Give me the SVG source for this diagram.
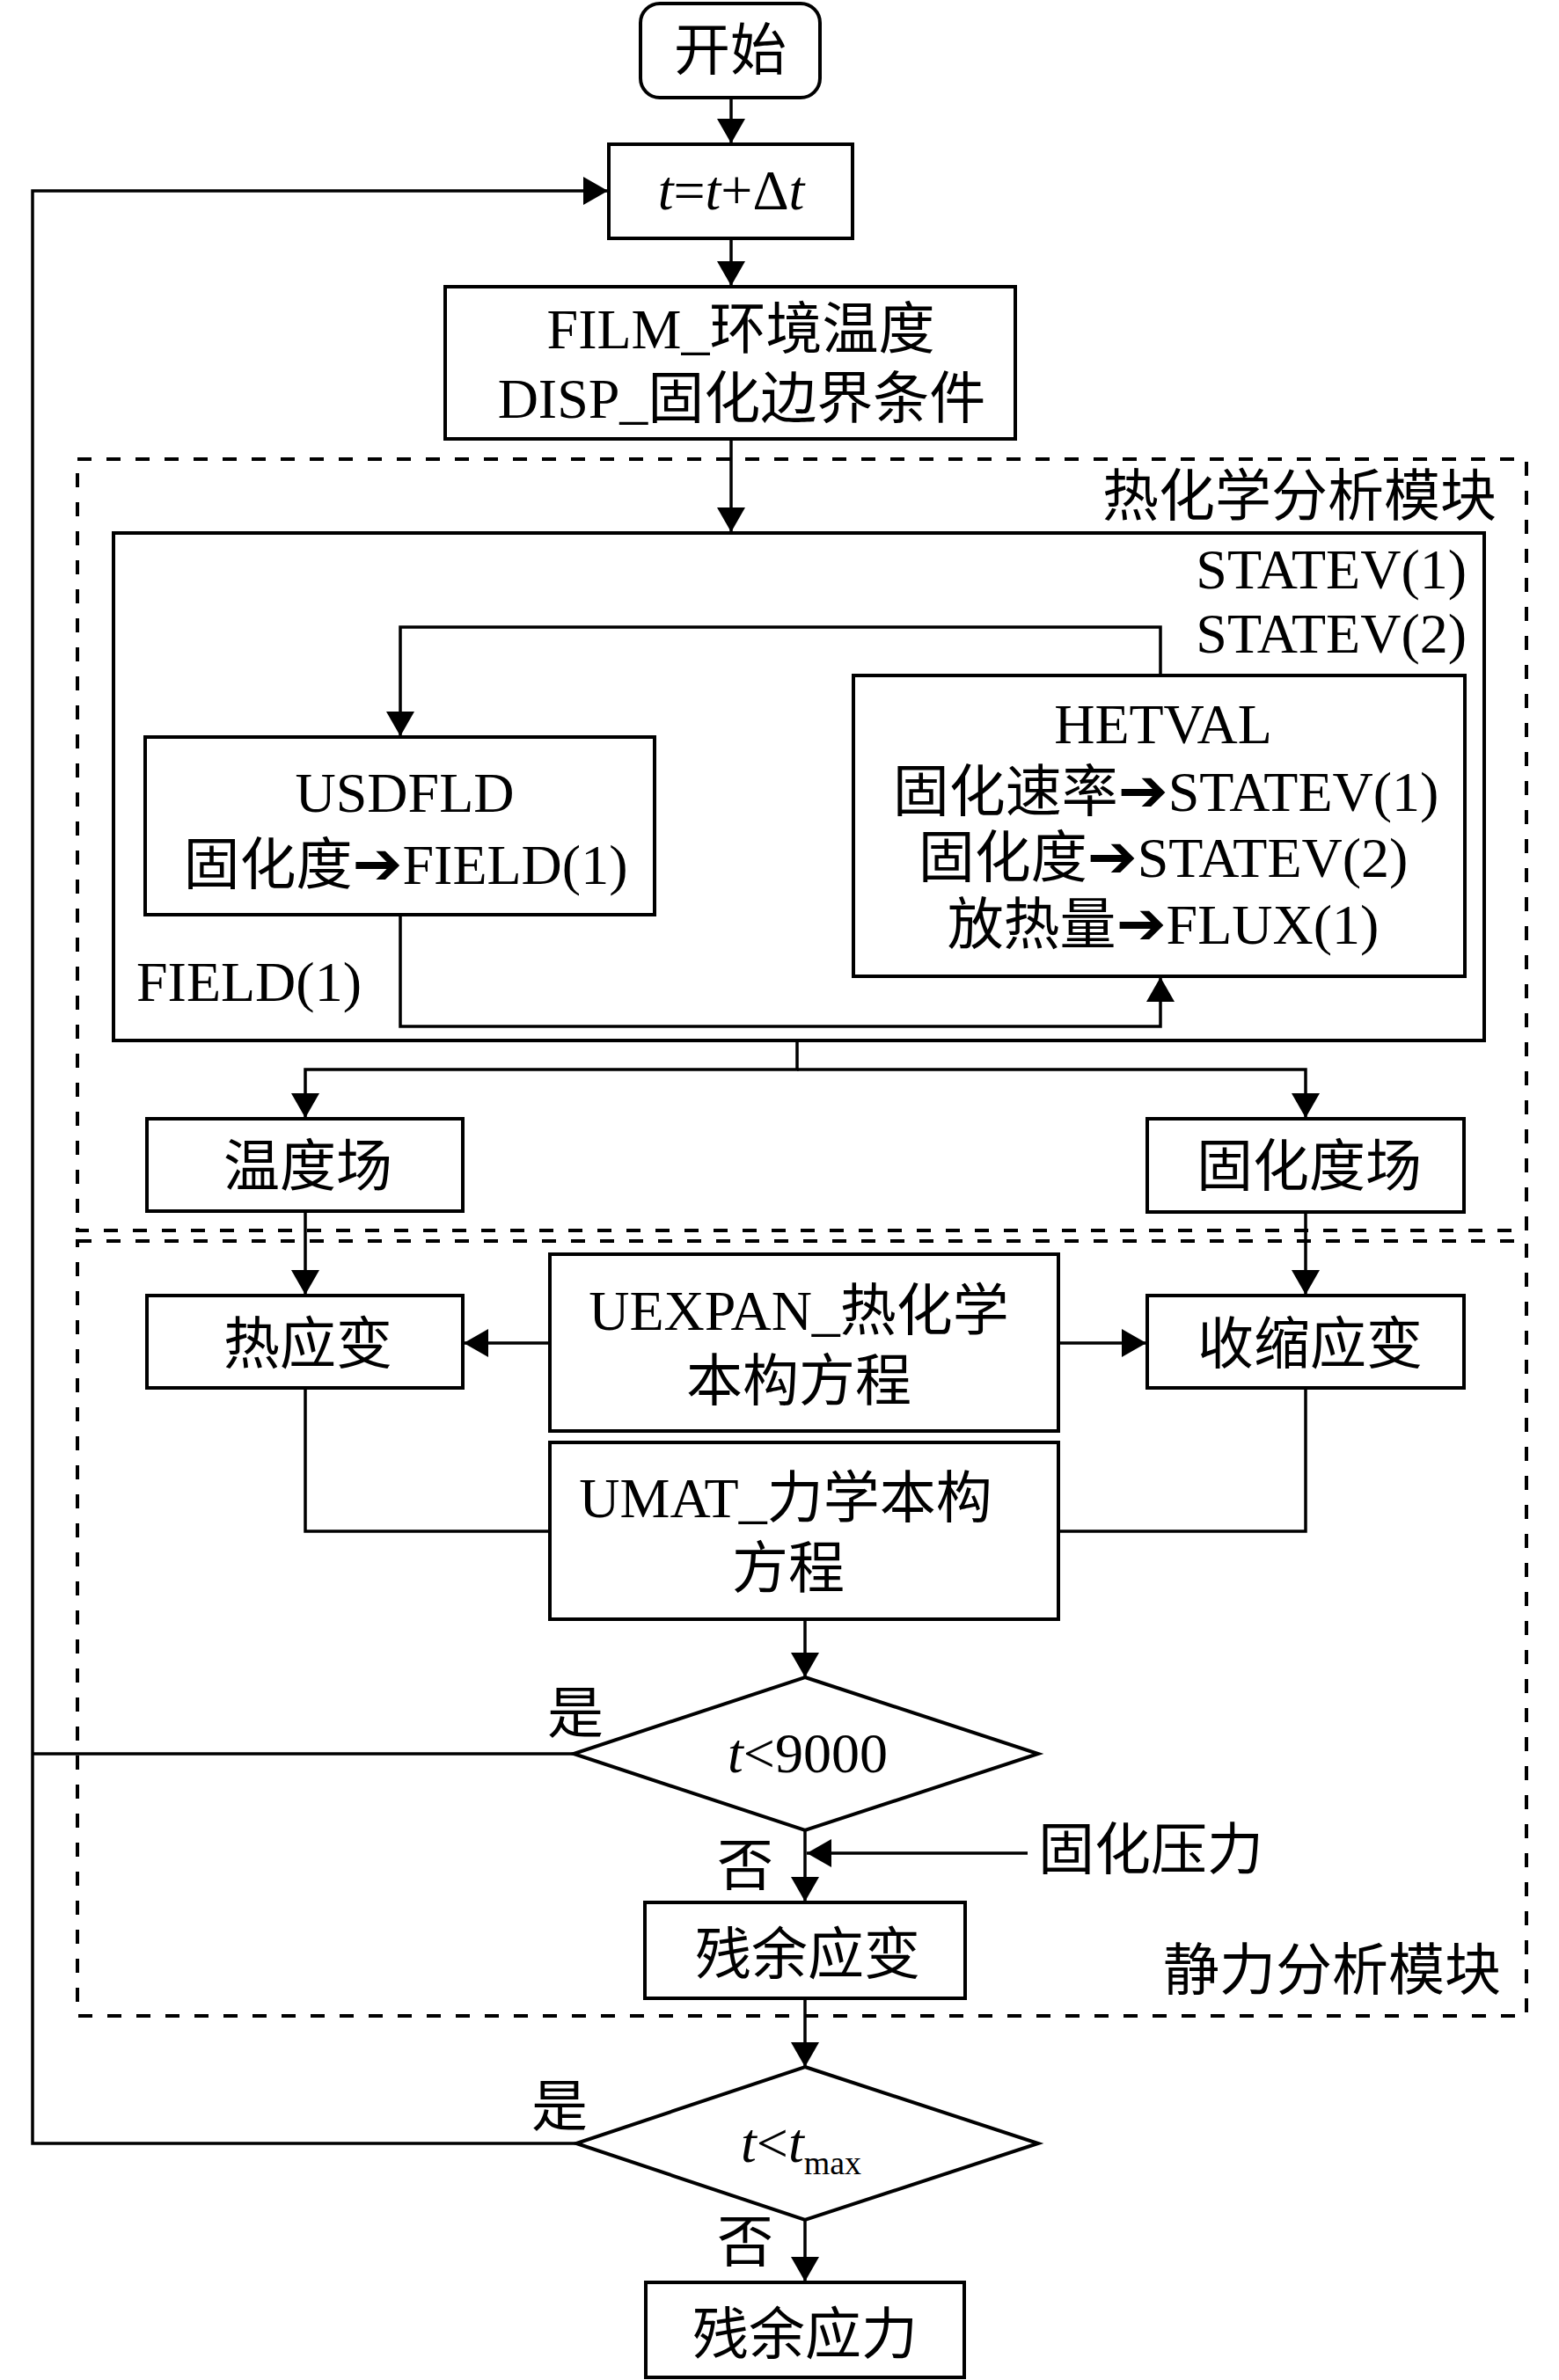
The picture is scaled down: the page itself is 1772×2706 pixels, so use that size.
<svg xmlns="http://www.w3.org/2000/svg" width="1772" height="2706" viewBox="0 0 1772 2706">
<style>
.box{fill:#fff;stroke:#000;stroke-width:4}
.dash{fill:none;stroke:#000;stroke-width:4;stroke-dasharray:16 17}
.ln{fill:none;stroke:#000;stroke-width:3.5}
.arr{fill:none;stroke:#000;stroke-width:3.5;marker-end:url(#ah)}
text{font-family:"Liberation Serif","Noto Sans CJK SC",serif;font-size:64px;fill:#000}
.c{text-anchor:middle}
.e{text-anchor:end}
.i{font-style:italic}
.ar{font-family:"DejaVu Sans",sans-serif;font-size:68px}
</style>
<defs>
<marker id="ah" markerUnits="userSpaceOnUse" markerWidth="30" markerHeight="32" refX="28" refY="16" orient="auto">
<path d="M0,0 L28,16 L0,32 z" fill="#000"/>
</marker>
</defs>
<rect width="1772" height="2706" fill="#fff"/>

<g id="module-thermochem">
<rect class="dash" x="88" y="522" width="1647" height="877"/>
<text class="e" x="1701" y="586">热化学分析模块</text>
</g>
<g id="module-static">
<rect class="dash" x="88" y="1411" width="1647" height="881"/>
<text class="e" x="1706" y="2262">静力分析模块</text>
</g>

<g id="start">
<rect class="box" x="728" y="4" width="204" height="107" rx="22"/>
<text class="c" x="830" y="79">开始</text>
</g>
<g id="time-step">
<rect class="box" x="692" y="164" width="277" height="107"/>
<text class="c" x="831" y="238"><tspan class="i">t</tspan>=<tspan class="i">t</tspan>+Δ<tspan class="i">t</tspan></text>
</g>
<g id="film-disp">
<rect class="box" x="506" y="326" width="648" height="173"/>
<text class="c" x="842" y="396">FILM_环境温度</text>
<text class="c" x="843" y="475">DISP_固化边界条件</text>
</g>
<g id="thermochem-inner">
<rect class="box" x="129" y="606" width="1558" height="577"/>
<text class="e" x="1667" y="669">STATEV(1)</text>
<text class="e" x="1667" y="742">STATEV(2)</text>
<text x="155" y="1138">FIELD(1)</text>
</g>
<g id="usdfld">
<rect class="box" x="165" y="838" width="579" height="202"/>
<text class="c" x="460" y="923">USDFLD</text>
<text class="c" x="461" y="1005">固化度<tspan class="ar">➔</tspan>FIELD(1)</text>
</g>
<g id="hetval">
<rect class="box" x="970" y="768" width="695" height="342"/>
<text class="c" x="1322" y="845">HETVAL</text>
<text class="c" x="1325" y="922">固化速率<tspan class="ar">➔</tspan>STATEV(1)</text>
<text class="c" x="1322" y="997">固化度<tspan class="ar">➔</tspan>STATEV(2)</text>
<text class="c" x="1322" y="1073">放热量<tspan class="ar">➔</tspan>FLUX(1)</text>
</g>
<g id="temp-field">
<rect class="box" x="167" y="1272" width="359" height="105"/>
<text class="c" x="350" y="1348">温度场</text>
</g>
<g id="cure-field">
<rect class="box" x="1304" y="1272" width="360" height="106"/>
<text class="c" x="1488" y="1348">固化度场</text>
</g>
<g id="thermal-strain">
<rect class="box" x="167" y="1473" width="359" height="105"/>
<text class="c" x="350" y="1550">热应变</text>
</g>
<g id="shrink-strain">
<rect class="box" x="1304" y="1473" width="360" height="105"/>
<text class="c" x="1489" y="1550">收缩应变</text>
</g>
<g id="uexpan">
<rect class="box" x="625" y="1426" width="578" height="201"/>
<text class="c" x="908" y="1512">UEXPAN_热化学</text>
<text class="c" x="908" y="1592">本构方程</text>
</g>
<g id="umat">
<rect class="box" x="625" y="1640" width="578" height="201"/>
<text class="c" x="893" y="1725">UMAT_力学本构</text>
<text class="c" x="896" y="1805">方程</text>
</g>
<g id="decision-9000">
<polygon class="box" points="915,1907 1180,1994 915,2081 652,1994"/>
<text class="c" x="918" y="2015"><tspan class="i">t</tspan>&lt;9000</text>
<text class="c" x="654" y="1970">是</text>
<text class="c" x="847" y="2143">否</text>
</g>
<g id="cure-pressure">
<text x="1180" y="2125">固化压力</text>
</g>
<g id="residual-strain">
<rect class="box" x="733" y="2163" width="364" height="109"/>
<text class="c" x="918" y="2244">残余应变</text>
</g>
<g id="decision-tmax">
<polygon class="box" points="915,2350 1180,2437 915,2524 655,2437"/>
<text x="842" y="2458"><tspan class="i">t</tspan>&lt;<tspan class="i">t</tspan><tspan font-size="38" dy="14">max</tspan></text>
<text class="c" x="636" y="2417">是</text>
<text class="c" x="847" y="2571">否</text>
</g>
<g id="residual-stress">
<rect class="box" x="734" y="2595" width="362" height="108"/>
<text class="c" x="915" y="2676">残余应力</text>
</g>

<g id="connectors">
<path class="arr" d="M831,111 V163"/>
<path class="arr" d="M831,271 V325"/>
<path class="arr" d="M831,499 V605"/>
<path class="arr" d="M1319,767 V713 H455 V837"/>
<path class="arr" d="M455,1040 V1167 H1319 V1111"/>
<path class="arr" d="M906,1183 V1216 H347 V1271"/>
<path class="arr" d="M906,1216 H1484 V1271"/>
<path class="arr" d="M347,1377 V1472"/>
<path class="arr" d="M1484,1377 V1472"/>
<path class="arr" d="M625,1527 H527"/>
<path class="arr" d="M1203,1527 H1303"/>
<path class="ln" d="M347,1578 V1741 H625"/>
<path class="ln" d="M1484,1578 V1741 H1203"/>
<path class="arr" d="M915,1841 V1907"/>
<path class="ln" d="M652,1994 H37"/>
<path class="arr" d="M915,2081 V2162"/>
<path class="arr" d="M1168,2107 H917"/>
<path class="arr" d="M915,2272 V2350"/>
<path class="arr" d="M655,2437 H37 V217 H691"/>
<path class="arr" d="M915,2524 V2594"/>
</g>
</svg>
